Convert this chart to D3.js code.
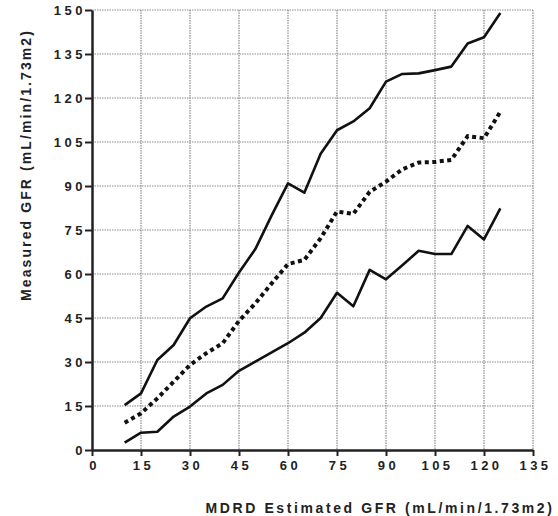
<!DOCTYPE html>
<html lang="en">
<head>
<meta charset="UTF-8">
<title>Measured vs MDRD GFR</title>
<script src="https://cdnjs.cloudflare.com/ajax/libs/d3/7.8.5/d3.min.js"></script>
<style>
  body { margin: 0; background: #fff; }
  text { font-family: "Liberation Sans", Arial, sans-serif; font-weight: bold; fill: #222; }
</style>
</head>
<body>
<div id="app"></div>
<script>
var width = 558, height = 516;
var margin = { left: 92, top: 10, right: 25, bottom: 66 };

// MDRD estimated GFR (x) and measured GFR percentiles (y)
var mdrd = [10, 15, 20, 25, 30, 35, 40, 45, 50, 55, 60, 65, 70, 75, 80, 85, 90, 95, 100, 105, 110, 115, 120, 125];
var upper = [15.3, 19.3, 30.7, 35.8, 44.9, 48.9, 51.7, 60.5, 68.5, 80, 90.9, 87.7, 101, 109, 112, 116.5, 125.6, 128.2, 128.4, 129.5, 130.7, 138.6, 140.7, 149];
var median = [9.3, 12.5, 17.6, 23.3, 29, 33, 36.4, 44, 50, 56.8, 63.4, 64.8, 72.2, 81.3, 80.5, 88, 91.5, 95.7, 98, 98.2, 98.9, 107, 106.3, 115.3];
var lower = [2.5, 5.9, 6.2, 11.4, 14.8, 19.3, 22.2, 27, 30.1, 33.3, 36.4, 40, 45, 53.6, 49, 61.4, 58.2, 63, 67.9, 66.8, 66.8, 76.4, 71.8, 82.4];
var xTicks = [0, 15, 30, 45, 60, 75, 90, 105, 120, 135];
var yTicks = [0, 15, 30, 45, 60, 75, 90, 105, 120, 135, 150];

var w = width - margin.left - margin.right;
var h = height - margin.top - margin.bottom;

var svg = d3.select("#app").append("svg")
  .attr("width", width)
  .attr("height", height);

var g = svg.append("g")
  .attr("transform", "translate(" + margin.left + "," + margin.top + ")");

var x = d3.scaleLinear().domain([0, 135]).range([0, w]);
var y = d3.scaleLinear().domain([0, 150]).range([h, 0]);

// grid
g.append("g").selectAll("line.vg")
  .data(xTicks.slice(1)).enter().append("line")
  .attr("x1", function (d) { return x(d); })
  .attr("x2", function (d) { return x(d); })
  .attr("y1", 0).attr("y2", h)
  .attr("stroke", "#8a8a8a").attr("stroke-width", 1.2)
  .attr("stroke-dasharray", "1.5,1");
g.append("g").selectAll("line.hg")
  .data(yTicks.slice(1)).enter().append("line")
  .attr("y1", function (d) { return y(d); })
  .attr("y2", function (d) { return y(d); })
  .attr("x1", 0).attr("x2", w)
  .attr("stroke", "#8a8a8a").attr("stroke-width", 1.2)
  .attr("stroke-dasharray", "1.5,1");

// axes
var xAxis = g.append("g")
  .attr("transform", "translate(0," + h + ")")
  .call(d3.axisBottom(x).tickValues(xTicks).tickSize(6).tickSizeOuter(0));
var yAxis = g.append("g")
  .call(d3.axisLeft(y).tickValues(yTicks).tickSize(7).tickSizeOuter(0));

[xAxis, yAxis].forEach(function (a) {
  a.select(".domain").attr("stroke", "#222").attr("stroke-width", 2.5);
  a.selectAll(".tick line").attr("stroke", "#222").attr("stroke-width", 2);
  a.selectAll(".tick text")
    .style("font-size", "13px")
    .style("letter-spacing", "3.5px")
    .attr("fill", "#222");
});
xAxis.selectAll(".tick text").attr("y", 11).attr("dx", "2px");
yAxis.selectAll(".tick text").attr("x", -6).attr("dy", "0.36em");

// lines
var line = d3.line()
  .x(function (d) { return x(d[0]); })
  .y(function (d) { return y(d[1]); });

function pairs(ys) { return mdrd.map(function (v, i) { return [v, ys[i]]; }); }

g.append("path").datum(pairs(upper)).attr("d", line)
  .attr("fill", "none").attr("stroke", "#111").attr("stroke-width", 2.6)
  .attr("stroke-linejoin", "round");
g.append("path").datum(pairs(lower)).attr("d", line)
  .attr("fill", "none").attr("stroke", "#111").attr("stroke-width", 2.6)
  .attr("stroke-linejoin", "round");
g.append("path").datum(pairs(median)).attr("d", line)
  .attr("fill", "none").attr("stroke", "#111").attr("stroke-width", 4)
  .attr("stroke-dasharray", "4,3.5");

// titles
svg.append("text")
  .attr("x", 380).attr("y", 513)
  .attr("text-anchor", "middle")
  .style("font-size", "14px")
  .style("letter-spacing", "2.6px")
  .text("MDRD Estimated GFR (mL/min/1.73m2)");

svg.append("text")
  .attr("transform", "translate(31,165) rotate(-90)")
  .attr("text-anchor", "middle")
  .style("font-size", "14px")
  .style("letter-spacing", "2.1px")
  .text("Measured GFR (mL/min/1.73m2)");
</script>
</body>
</html>
